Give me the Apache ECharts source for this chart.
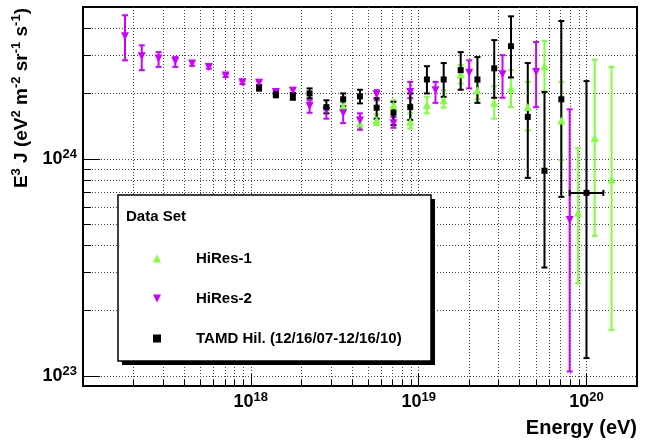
<!DOCTYPE html>
<html>
<head>
<meta charset="utf-8">
<script src="https://cdn.jsdelivr.net/npm/echarts@6/dist/echarts.min.js"></script>
<style>
  html, body { margin: 0; padding: 0; background: #fff; }
  #chart { width: 645px; height: 444px; }
</style>
</head>
<body>
<div id="chart"></div>
<script>
// Cosmic-ray energy spectrum, E^3 J in eV^2 m^-2 sr^-1 s^-1, versus energy in eV.

// HiRes-1 (monocular)
const hires1Energy = [3.55e18, 4.47e18, 5.62e18, 7.08e18, 8.91e18, 1.12e19, 1.41e19, 1.78e19, 2.24e19,
                      2.82e19, 3.55e19, 4.47e19, 5.62e19, 7.08e19, 8.91e19, 1.12e20, 1.41e20];
const hires1Flux   = [1.75e24, 1.46e24, 1.51e24, 1.77e24, 1.48e24, 1.77e24, 1.86e24, 2.45e24, 2.07e24,
                      1.81e24, 2.11e24, 1.73e24, 2.67e24, 1.50e24, 5.64e23, 1.25e24, 8.04e23];
const hires1Low    = [1.68e24, 1.38e24, 1.43e24, 1.68e24, 1.38e24, 1.62e24, 1.72e24, 2.22e24, 1.88e24,
                      1.53e24, 1.73e24, 1.35e24, 2.05e24, 9.86e23, 2.67e23, 4.42e23, 1.63e23];
const hires1High   = [1.82e24, 1.55e24, 1.60e24, 1.86e24, 1.62e24, 1.93e24, 2.07e24, 2.70e24, 2.26e24,
                      2.16e24, 2.56e24, 2.26e24, 3.49e24, 2.26e24, 1.12e24, 2.86e24, 2.65e24];

// HiRes-2 (monocular)
const hires2Energy = [1.78e17, 2.24e17, 2.82e17, 3.55e17, 4.47e17, 5.62e17, 7.08e17, 8.91e17, 1.12e18,
                      1.41e18, 1.78e18, 2.24e18, 2.82e18, 3.55e18, 4.47e18, 5.62e18, 7.08e18, 8.91e18,
                      1.26e19, 2.00e19, 3.16e19, 5.01e19, 7.94e19];
const hires2Flux   = [3.67e24, 2.97e24, 2.90e24, 2.82e24, 2.75e24, 2.65e24, 2.42e24, 2.25e24, 2.24e24,
                      2.03e24, 2.06e24, 1.75e24, 1.66e24, 1.62e24, 1.50e24, 1.98e24, 1.46e24, 2.03e24,
                      2.07e24, 2.49e24, 2.45e24, 2.51e24, 5.23e23];
const hires2Low    = [2.84e24, 2.56e24, 2.65e24, 2.65e24, 2.68e24, 2.60e24, 2.38e24, 2.21e24, 2.19e24,
                      1.98e24, 2.00e24, 1.63e24, 1.53e24, 1.46e24, 1.36e24, 1.86e24, 1.39e24, 1.90e24,
                      1.81e24, 2.11e24, 1.91e24, 1.73e24, 1.05e23];
const hires2High   = [4.58e24, 3.33e24, 3.10e24, 2.94e24, 2.82e24, 2.70e24, 2.46e24, 2.29e24, 2.29e24,
                      2.08e24, 2.12e24, 1.86e24, 1.73e24, 1.73e24, 1.62e24, 2.07e24, 1.56e24, 2.26e24,
                      2.26e24, 2.84e24, 3.00e24, 3.45e24, 1.69e24];

// TAMD hybrid, 12/16/07 - 12/16/10
const tamdEnergy = [1.12e18, 1.41e18, 1.78e18, 2.24e18, 2.82e18, 3.55e18, 4.47e18, 5.62e18, 7.08e18, 8.91e18,
                    1.12e19, 1.41e19, 1.78e19, 2.24e19, 2.82e19, 3.55e19, 4.47e19, 5.62e19, 7.08e19, 1.00e20];
const tamdFlux   = [2.12e24, 1.98e24, 1.94e24, 2.00e24, 1.73e24, 1.88e24, 1.94e24, 1.72e24, 1.63e24, 1.73e24,
                    2.32e24, 2.32e24, 2.56e24, 2.32e24, 2.61e24, 3.30e24, 1.56e24, 8.81e23, 1.88e24, 6.97e23];
const tamdLow    = [2.06e24, 1.92e24, 1.87e24, 1.90e24, 1.62e24, 1.75e24, 1.80e24, 1.53e24, 1.43e24, 1.51e24,
                    2.00e24, 1.93e24, 2.08e24, 1.81e24, 1.91e24, 2.37e24, 8.17e23, 3.16e23, 6.68e23, 1.21e23];
const tamdHigh   = [2.18e24, 2.05e24, 2.01e24, 2.11e24, 1.86e24, 2.00e24, 2.08e24, 1.90e24, 1.83e24, 2.00e24,
                    2.67e24, 2.76e24, 3.10e24, 2.94e24, 3.52e24, 4.53e24, 2.76e24, 2.03e24, 4.31e24, 2.28e24];
// energy bin edges, only for the widened last bin
const tamdBinLow  = [null, null, null, null, null, null, null, null, null, null,
                     null, null, null, null, null, null, null, null, null, 7.94e19];
const tamdBinHigh = [null, null, null, null, null, null, null, null, null, null,
                     null, null, null, null, null, null, null, null, null, 1.26e20];

// axis ranges and labelled decades
const energyMin = 1e17, energyMax = 2e20;
const fluxMin = 9e22, fluxMax = 5e24;
const energyDecades = [1e18, 1e19, 1e20];
const fluxDecades = [1e23, 1e24];

const seriesNames = ['HiRes-1', 'HiRes-2', 'TAMD Hil. (12/16/07-12/16/10)'];
const colors = { hires1: '#80ff40', hires2: '#cc00ff', tamd: '#000000' };

const FONT = '"Liberation Sans", Arial, Helvetica, sans-serif';

// 1..9 x 10^n positions strictly inside an axis range
function logSteps(min, max) {
  const out = [];
  for (let d = Math.floor(Math.log10(min)); d <= Math.ceil(Math.log10(max)); d++) {
    for (let k = 1; k <= 9; k++) {
      const v = k * Math.pow(10, d);
      if (v > min * 1.0001 && v < max * 0.9999) out.push(v);
    }
  }
  return out;
}

function powerLabel(v) {
  return '{b|10}{s|' + Math.round(Math.log10(v)) + '}';
}
const powerRich = {
  b: { fontFamily: FONT, fontWeight: 'bold', fontSize: 18, lineHeight: 22, color: '#000' },
  s: { fontFamily: FONT, fontWeight: 'bold', fontSize: 13, lineHeight: 10, verticalAlign: 'top', color: '#000' }
};

function errorBarItem(color) {
  return function (params, api) {
    const e = api.value(0), lo = api.value(2), hi = api.value(3);
    const top = api.coord([e, hi]);
    const bot = api.coord([e, lo]);
    const style = { stroke: color, lineWidth: 2 };
    const c = 3;
    const kids = [
      { type: 'line', shape: { x1: top[0], y1: top[1], x2: bot[0], y2: bot[1] }, style: style },
      { type: 'line', shape: { x1: top[0] - c, y1: top[1], x2: top[0] + c, y2: top[1] }, style: style },
      { type: 'line', shape: { x1: bot[0] - c, y1: bot[1], x2: bot[0] + c, y2: bot[1] }, style: style }
    ];
    const eLo = api.value(4), eHi = api.value(5);
    if (eLo > 0 && eHi > 0) {
      const y = api.value(1);
      const l = api.coord([eLo, y]), r = api.coord([eHi, y]);
      kids.push({ type: 'line', shape: { x1: l[0], y1: l[1], x2: r[0], y2: r[1] }, style: style });
      kids.push({ type: 'line', shape: { x1: l[0], y1: l[1] - c, x2: l[0], y2: l[1] + c }, style: style });
      kids.push({ type: 'line', shape: { x1: r[0], y1: r[1] - c, x2: r[0], y2: r[1] + c }, style: style });
    }
    return { type: 'group', children: kids };
  };
}

function errorSeries(name, energy, flux, low, high, color, binLow, binHigh) {
  return {
    type: 'custom', name: name, silent: true, xAxisIndex: 0, yAxisIndex: 0,
    renderItem: errorBarItem(color),
    encode: { x: 0, y: 1 },
    data: energy.map((e, i) => [e, flux[i], low[i], high[i],
                                binLow ? (binLow[i] || 0) : 0, binHigh ? (binHigh[i] || 0) : 0])
  };
}

function markerSeries(name, energy, flux, color, symbol, size, rotate) {
  return {
    type: 'scatter', name: name, silent: true, xAxisIndex: 0, yAxisIndex: 0,
    symbol: symbol, symbolSize: size, symbolRotate: rotate || 0,
    itemStyle: { color: color, opacity: 1 },
    data: energy.map((e, i) => [e, flux[i]])
  };
}

const gridRect = { left: 83, right: 8, top: 7, bottom: 58 };
const dotted = { color: '#444', width: 1, type: [1, 2] };

const chart = echarts.init(document.getElementById('chart'), null, { renderer: 'canvas' });

chart.setOption({
  animation: false,
  backgroundColor: '#fff',
  grid: [
    Object.assign({ show: true, borderColor: '#000', borderWidth: 2, backgroundColor: 'transparent' }, gridRect),
    Object.assign({}, gridRect)
  ],
  xAxis: [
    { // minor ticks and grid lines
      type: 'log', logBase: 10, gridIndex: 0, min: energyMin, max: energyMax, position: 'bottom',
      axisLine: { show: false },
      axisTick: { inside: true, length: 6, customValues: logSteps(energyMin, energyMax), lineStyle: { color: '#000', width: 1 } },
      axisLabel: { show: false },
      splitLine: { show: true, lineStyle: dotted }
    },
    { // decades with labels
      type: 'log', logBase: 10, gridIndex: 1, min: energyMin, max: energyMax, position: 'bottom',
      axisLine: { show: false },
      axisTick: { inside: true, length: 12, customValues: energyDecades, lineStyle: { color: '#000', width: 1 } },
      axisLabel: { customValues: energyDecades, formatter: powerLabel, rich: powerRich, margin: 5 },
      splitLine: { show: false }
    }
  ],
  yAxis: [
    {
      type: 'log', logBase: 10, gridIndex: 0, min: fluxMin, max: fluxMax, position: 'left',
      axisLine: { show: false },
      axisTick: { inside: true, length: 8, customValues: logSteps(fluxMin, fluxMax), lineStyle: { color: '#000', width: 1 } },
      axisLabel: { show: false },
      splitLine: { show: true, lineStyle: dotted }
    },
    {
      type: 'log', logBase: 10, gridIndex: 1, min: fluxMin, max: fluxMax, position: 'left',
      axisLine: { show: false },
      axisTick: { inside: true, length: 17, customValues: fluxDecades, lineStyle: { color: '#000', width: 1 } },
      axisLabel: { customValues: fluxDecades, formatter: powerLabel, rich: powerRich, margin: 6 },
      splitLine: { show: false }
    }
  ],
  legend: {
    data: [
      { name: seriesNames[0], icon: 'triangle' },
      { name: seriesNames[1], icon: 'path://M0,0L10,0L5,10Z' },
      { name: seriesNames[2], icon: 'rect' }
    ],
    orient: 'vertical',
    left: 153, top: 251,
    padding: 0,
    itemWidth: 8, itemHeight: 8, itemGap: 25,
    selectedMode: false,
    textStyle: { fontFamily: FONT, fontWeight: 'bold', fontSize: 15, color: '#000', padding: [0, 0, 0, 30] },
    z: 20
  },
  graphic: [
    { type: 'rect', z: 15, shape: { x: 122, y: 199, width: 313, height: 166 }, style: { fill: '#000' } },
    { type: 'rect', z: 16, shape: { x: 118, y: 195, width: 313, height: 166 }, style: { fill: '#fff', stroke: '#000', lineWidth: 1.5 } },
    { type: 'text', z: 17, x: 126, y: 217,
      style: { text: 'Data Set', fontFamily: FONT, fontWeight: 'bold', fontSize: 15, fill: '#000', verticalAlign: 'middle' } },
    { type: 'text', z: 17, x: 637, y: 428,
      style: { text: 'Energy (eV)', fontFamily: FONT, fontWeight: 'bold', fontSize: 20, fill: '#000', align: 'right', verticalAlign: 'middle' } },
    { type: 'text', z: 17, x: 22, y: 8, rotation: Math.PI / 2,
      style: {
        text: '{m|E}{s|3}{m| J (eV}{s|2}{m| m}{s|-2}{m| sr}{s|-1}{m| s}{s|-1}{m|)}',
        align: 'right', verticalAlign: 'middle',
        rich: {
          m: { fontFamily: FONT, fontWeight: 'bold', fontSize: 19, lineHeight: 24, fill: '#000' },
          s: { fontFamily: FONT, fontWeight: 'bold', fontSize: 13, lineHeight: 12, verticalAlign: 'top', fill: '#000' }
        }
      } }
  ],
  series: [
    errorSeries('HiRes-1 errors', hires1Energy, hires1Flux, hires1Low, hires1High, colors.hires1),
    markerSeries(seriesNames[0], hires1Energy, hires1Flux, colors.hires1, 'triangle', 8),
    errorSeries('HiRes-2 errors', hires2Energy, hires2Flux, hires2Low, hires2High, colors.hires2),
    markerSeries(seriesNames[1], hires2Energy, hires2Flux, colors.hires2, 'triangle', 8, 180),
    errorSeries('TAMD errors', tamdEnergy, tamdFlux, tamdLow, tamdHigh, colors.tamd, tamdBinLow, tamdBinHigh),
    markerSeries(seriesNames[2], tamdEnergy, tamdFlux, colors.tamd, 'rect', 6)
  ]
});
</script>
</body>
</html>
